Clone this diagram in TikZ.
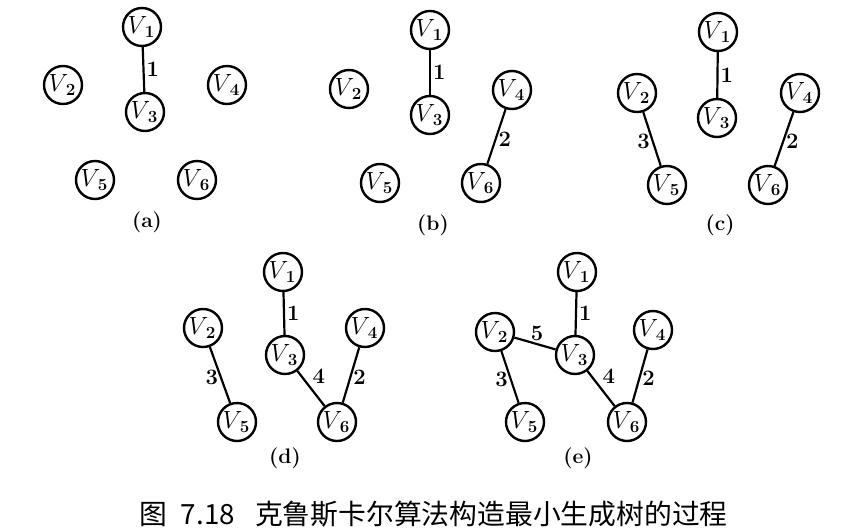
\documentclass[tikz,border=0pt]{standalone}
\usepackage{fontspec}
\newfontfamily\cjk{Noto Sans CJK SC}
\begin{document}
\begin{tikzpicture}[x=1pt,y=-1pt,
  vtx/.style={circle,draw,line width=2.4pt,minimum size=38pt,inner sep=0pt,font=\fontsize{23}{23}\selectfont},
  edg/.style={line width=2.2pt},
  wt/.style={font=\fontsize{22}{22}\selectfont\bfseries,inner sep=2pt},
  sub/.style={font=\fontsize{21}{21}\selectfont\bfseries}]
\useasboundingbox (0,0) rectangle (849,528);
\newcommand{\vv}[1]{\hspace{-2pt}$V$\hspace{-2.5pt}\raisebox{-4pt}{\bfseries\fontsize{17}{17}\selectfont #1}}
% (a)
\node[vtx] (a1) at (142,27) {\vv1};
\node[vtx] (a2) at (63,85) {\vv2};
\node[vtx] (a3) at (145,112) {\vv3};
\node[vtx] (a4) at (227,85) {\vv4};
\node[vtx] (a5) at (95,180) {\vv5};
\node[vtx] (a6) at (197,180) {\vv6};
\draw[edg] (a1) -- node[wt,midway,right] {1} (a3);
\node[sub] (la) at (147,222) {(a)};
% (b)
\node[vtx] (b1) at (430,30) {\vv1};
\node[vtx] (b2) at (349,89) {\vv2};
\node[vtx] (b3) at (430,115) {\vv3};
\node[vtx] (b4) at (512,90) {\vv4};
\node[vtx] (b5) at (380,183) {\vv5};
\node[vtx] (b6) at (481,183) {\vv6};
\draw[edg] (b1) -- node[wt,midway,right] {1} (b3);
\draw[edg] (b4) -- node[wt,pos=0.55,right] {2} (b6);
\node[sub] (lb) at (433,225) {(b)};
% (c)
\node[vtx] (c1) at (718,32) {\vv1};
\node[vtx] (c2) at (637,93) {\vv2};
\node[vtx] (c3) at (717,118) {\vv3};
\node[vtx] (c4) at (800,93) {\vv4};
\node[vtx] (c5) at (667,185) {\vv5};
\node[vtx] (c6) at (768,185) {\vv6};
\draw[edg] (c1) -- node[wt,midway,right] {1} (c3);
\draw[edg] (c4) -- node[wt,pos=0.55,right] {2} (c6);
\draw[edg] (c2) -- node[wt,pos=0.55,left] {3} (c5);
\node[sub] (lc) at (720,225) {(c)};
% (d)
\node[vtx] (d1) at (283,272) {\vv1};
\node[vtx] (d2) at (203,328) {\vv2};
\node[vtx] (d3) at (285,355) {\vv3};
\node[vtx] (d4) at (365,328) {\vv4};
\node[vtx] (d5) at (237,422) {\vv5};
\node[vtx] (d6) at (337,422) {\vv6};
\draw[edg] (d1) -- node[wt,midway,right] {1} (d3);
\draw[edg] (d4) -- node[wt,pos=0.55,right] {2} (d6);
\draw[edg] (d2) -- node[wt,pos=0.55,left] {3} (d5);
\draw[edg] (d3) -- node[wt,pos=0.45,above right] {4} (d6);
\node[sub] (ld) at (285,458) {(d)};
% (e)
\node[vtx] (e1) at (577,272) {\vv1};
\node[vtx] (e2) at (495,332) {\vv2};
\node[vtx] (e3) at (575,355) {\vv3};
\node[vtx] (e4) at (653,330) {\vv4};
\node[vtx] (e5) at (525,422) {\vv5};
\node[vtx] (e6) at (627,422) {\vv6};
\draw[edg] (e1) -- node[wt,midway,right] {1} (e3);
\draw[edg] (e4) -- node[wt,pos=0.55,right] {2} (e6);
\draw[edg] (e2) -- node[wt,pos=0.55,left] {3} (e5);
\draw[edg] (e3) -- node[wt,pos=0.45,above right] {4} (e6);
\draw[edg] (e2) -- node[wt,pos=0.55,above] {5} (e3);
\node[sub] (le) at (578,458) {(e)};
% caption
\node[anchor=base west,inner sep=0pt,font=\cjk\fontsize{27.8}{28}\selectfont] (cap) at (139,524) {图\hspace{14pt}7.18\hspace{20pt}克鲁斯卡尔算法构造最小生成树的过程};
\end{tikzpicture}
\end{document}
